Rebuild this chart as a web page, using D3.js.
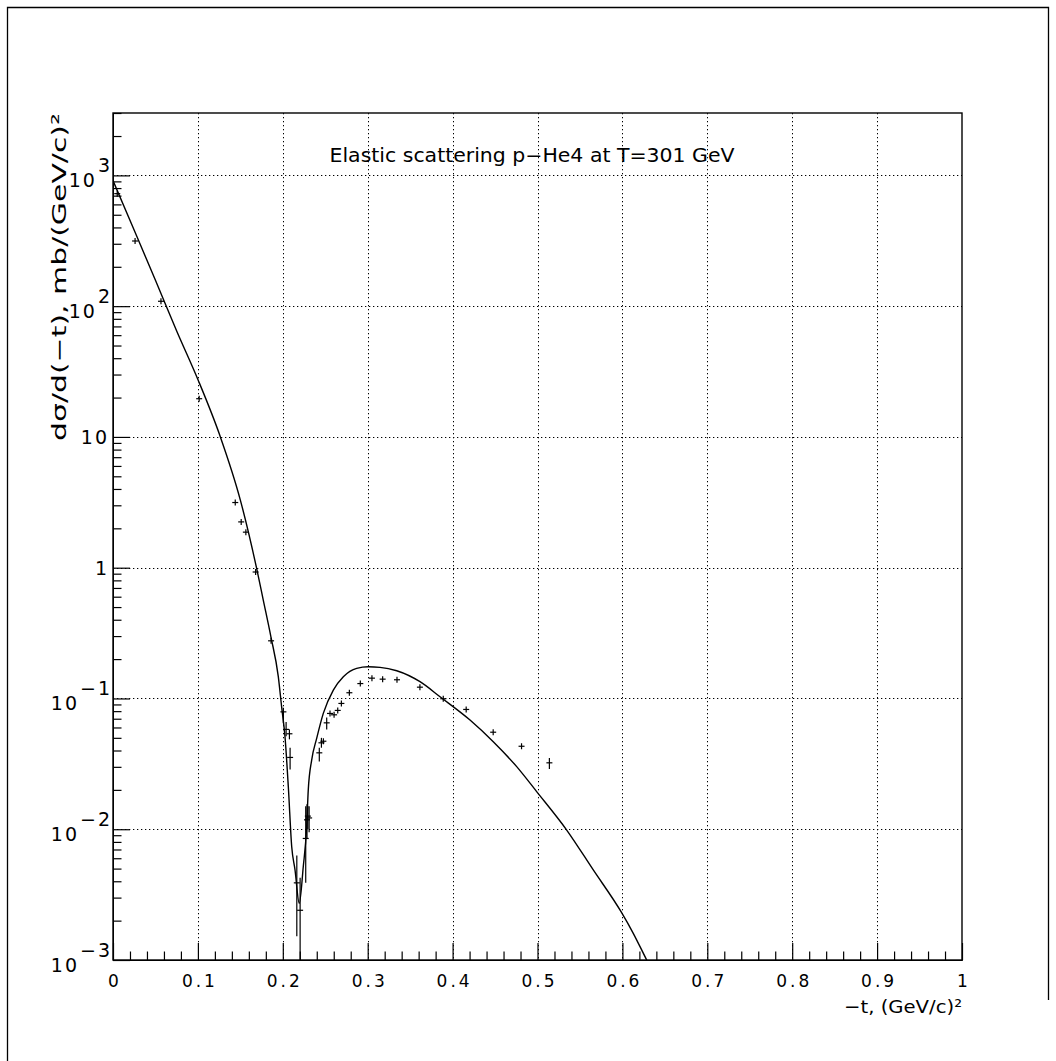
<!DOCTYPE html>
<html>
<head>
<meta charset="utf-8">
<script src="https://cdn.jsdelivr.net/npm/d3@7/dist/d3.min.js"></script>
<style>
  html, body { margin: 0; padding: 0; background: #fff; }
  svg { display: block; }
  text { font-family: "DejaVu Sans", "Liberation Sans", sans-serif; fill: #000; }
</style>
</head>
<body>
<svg id="chart" width="1056" height="1061"></svg>
<script>
// ---- data ----
const titleText = "Elastic scattering p\u2212He4 at T=301 GeV";
const xTitle = "\u2212t, (GeV/c)\u00B2";
const yTitle = "d\u03C3/d(\u2212t), mb/(GeV/c)\u00B2";

const xMajorTicks = [0, 0.1, 0.2, 0.3, 0.4, 0.5, 0.6, 0.7, 0.8, 0.9, 1];
const xTickLabels = ["0", "0.1", "0.2", "0.3", "0.4", "0.5", "0.6", "0.7", "0.8", "0.9", "1"];
const yDecades = [1e-3, 1e-2, 1e-1, 1, 10, 100, 1000];
const yLabelBase = ["10", "10", "10", "1", "10", "10", "10"];
const yLabelExp = ["\u22123", "\u22122", "\u22121", "", "", "2", "3"];

// measured points: -t, dsigma/dt, error-bar low, error-bar high
const dataT = [0.005, 0.026, 0.0565, 0.1015, 0.144, 0.151, 0.1565, 0.168, 0.1862,
  0.2007, 0.2039, 0.2078, 0.2086, 0.2165, 0.2204, 0.2270, 0.2285, 0.2295, 0.2310,
  0.243, 0.2455, 0.2478, 0.2517, 0.2556, 0.2604, 0.2647, 0.269, 0.2784, 0.2913,
  0.305, 0.3176, 0.3345, 0.3615, 0.389, 0.416, 0.4478, 0.4812, 0.514];
const dataY = [725, 315, 109, 19.6, 3.15, 2.24, 1.87, 0.927, 0.276,
  0.079, 0.058, 0.0537, 0.0354, 0.00389, 0.0024, 0.0085, 0.0118, 0.0126, 0.0122,
  0.0384, 0.0458, 0.0471, 0.0651, 0.0768, 0.075, 0.081, 0.0916, 0.1106, 0.130,
  0.143, 0.1405, 0.139, 0.122, 0.0995, 0.0824, 0.0552, 0.0431, 0.0322];
const dataLo = [725, 315, 109, 19.6, 3.15, 2.24, 1.87, 0.927, 0.276,
  0.065, 0.0515, 0.0487, 0.0286, 0.00152, 0.0008, 0.0039, 0.0085, 0.0100, 0.0095,
  0.033, 0.042, 0.0471, 0.058, 0.0768, 0.075, 0.081, 0.0916, 0.1106, 0.130,
  0.143, 0.1405, 0.139, 0.122, 0.0995, 0.0824, 0.0552, 0.0431, 0.0289];
const dataHi = [725, 315, 109, 19.6, 3.15, 2.24, 1.87, 0.927, 0.276,
  0.085, 0.066, 0.058, 0.042, 0.0063, 0.00425, 0.0150, 0.0155, 0.0150, 0.0150,
  0.042, 0.050, 0.0471, 0.0716, 0.0768, 0.075, 0.081, 0.0916, 0.1106, 0.130,
  0.143, 0.1405, 0.139, 0.122, 0.0995, 0.0824, 0.0552, 0.0431, 0.035];

// theoretical curve
const curveT = [0.000, 0.025, 0.050, 0.075, 0.100, 0.126, 0.150, 0.169, 0.177, 0.186,
  0.1947, 0.1986, 0.2026, 0.2065, 0.2105, 0.2144, 0.2194, 0.2241, 0.2281, 0.2300,
  0.2340, 0.2399, 0.2477, 0.2595, 0.2713, 0.287, 0.3007, 0.3145, 0.3342, 0.3616,
  0.3852, 0.4205, 0.4479, 0.4755, 0.499, 0.5344, 0.5657, 0.5984, 0.6128, 0.6286, 0.64];
const curveY = [912, 380, 158, 64.6, 27.5, 10.2, 3.29, 1.00, 0.565, 0.296,
  0.147, 0.0865, 0.0509, 0.0211, 0.00735, 0.00488, 0.00271, 0.00516, 0.01045, 0.0200,
  0.0338, 0.0495, 0.0769, 0.1159, 0.1466, 0.170, 0.1746, 0.1730, 0.1629, 0.1343,
  0.1030, 0.0684, 0.0467, 0.0301, 0.0194, 0.00986, 0.00488, 0.00234, 0.00160, 0.00100, 0.00072];

// ---- drawing ----
const svg = d3.select("#chart");
const L = 113, R = 962, T = 113, B = 960;
const x = d3.scaleLinear().domain([0, 1]).range([L, R]);
const y = d3.scaleLog().domain([1e-3, 3000]).range([B, T]);

svg.append("rect").attr("width", 1056).attr("height", 1061).attr("fill", "#fff");

// canvas border
svg.append("path").attr("d", "M7.5,1061 V7.5 H1048.5 V1000")
  .attr("fill", "none").attr("stroke", "#000").attr("stroke-width", 1.3);

svg.append("defs").append("clipPath").attr("id", "clip")
  .append("rect").attr("x", L).attr("y", T).attr("width", R - L).attr("height", B - T);

// grid
const grid = svg.append("g").attr("stroke", "#000").attr("stroke-width", 1)
  .attr("stroke-dasharray", "1.3,2.7");
grid.selectAll("line.gx").data(xMajorTicks.slice(1, -1)).join("line")
  .attr("x1", d => Math.round(x(d)) + 0.5).attr("x2", d => Math.round(x(d)) + 0.5)
  .attr("y1", T).attr("y2", B);
grid.selectAll("line.gy").data(yDecades.slice(1)).join("line")
  .attr("x1", L).attr("x2", R)
  .attr("y1", d => Math.round(y(d)) + 0.5).attr("y2", d => Math.round(y(d)) + 0.5);

// minor/major ticks x
const xMinor = d3.range(0, 51).map(i => i / 50).filter((d, i) => i % 5 !== 0);
svg.append("g").attr("transform", `translate(0,${B})`)
  .call(d3.axisBottom(x).tickValues(xMinor).tickSize(-8.5).tickSizeOuter(0).tickFormat(""));
const gxMajor = svg.append("g").attr("transform", `translate(0,${B})`)
  .call(d3.axisBottom(x).tickValues(xMajorTicks).tickSize(-17).tickSizeOuter(0)
    .tickPadding(15).tickFormat((d, i) => xTickLabels[i]));
gxMajor.selectAll("text").attr("font-size", 17).attr("font-family", "DejaVu Sans")
  .attr("letter-spacing", 3).attr("fill", "#000").attr("dx", 1.5);

// y ticks
const yMinor = [];
yDecades.forEach(dec => { for (let k = 2; k <= 9; k++) { const v = dec * k; if (v <= 3000) yMinor.push(v); } });
svg.append("g").attr("transform", `translate(${L},0)`)
  .call(d3.axisLeft(y).tickValues(yMinor).tickSize(-8.5).tickSizeOuter(0).tickFormat(""));
svg.append("g").attr("transform", `translate(${L},0)`)
  .call(d3.axisLeft(y).tickValues(yDecades).tickSize(-17).tickSizeOuter(0).tickFormat(""));

svg.selectAll(".tick line").attr("stroke", "#000").attr("stroke-width", 1.2);
svg.selectAll(".domain").attr("stroke", "#000");

// y labels
const yl = svg.append("g").attr("font-size", 19).attr("letter-spacing", 2);
yDecades.forEach((d, i) => {
  const yy = y(d);
  if (yLabelExp[i] === "") {
    yl.append("text").attr("x", 109).attr("y", yy + 7).attr("text-anchor", "end").text(yLabelBase[i]);
  } else {
    const t = yl.append("text").attr("x", 112).attr("y", yy + 12).attr("text-anchor", "end");
    t.append("tspan").text(yLabelBase[i]);
    t.append("tspan").attr("dy", -15).attr("dx", 1).text(yLabelExp[i]);
  }
});

// frame
svg.append("rect").attr("x", L).attr("y", T).attr("width", R - L).attr("height", B - T)
  .attr("fill", "none").attr("stroke", "#000").attr("stroke-width", 1.4);

// curve
const curveData = curveT.map((t, i) => [t, curveY[i]]);
svg.append("path").datum(curveData)
  .attr("clip-path", "url(#clip)")
  .attr("d", d3.line().curve(d3.curveMonotoneX).x(d => x(d[0])).y(d => y(d[1])))
  .attr("fill", "none").attr("stroke", "#000").attr("stroke-width", 1.4);

// data points
const pts = dataT.map((t, i) => ({ t, v: dataY[i], lo: dataLo[i], hi: dataHi[i] }));
const pg = svg.append("g").attr("clip-path", "url(#clip)").attr("stroke", "#000").attr("stroke-width", 1.2);
const ms = 3;
pts.forEach(p => {
  const px = x(p.t), py = y(p.v);
  const yTop = Math.min(py - ms, y(p.hi)), yBot = Math.max(py + ms, y(p.lo));
  pg.append("line").attr("x1", px - ms).attr("x2", px + ms).attr("y1", py).attr("y2", py);
  pg.append("line").attr("x1", px).attr("x2", px).attr("y1", yTop).attr("y2", yBot);
});

// titles
svg.append("text").attr("x", 532).attr("y", 162).attr("text-anchor", "middle")
  .attr("font-size", 19).attr("textLength", 405).attr("lengthAdjust", "spacingAndGlyphs")
  .text(titleText);
svg.append("text").attr("x", R).attr("y", 1013).attr("text-anchor", "end")
  .attr("font-size", 18).attr("textLength", 118).attr("lengthAdjust", "spacingAndGlyphs").text(xTitle);
svg.append("text").attr("transform", `translate(66,${T}) rotate(-90)`)
  .attr("text-anchor", "end").attr("font-size", 20)
  .attr("textLength", 328).attr("lengthAdjust", "spacingAndGlyphs").text(yTitle);
</script>
</body>
</html>
